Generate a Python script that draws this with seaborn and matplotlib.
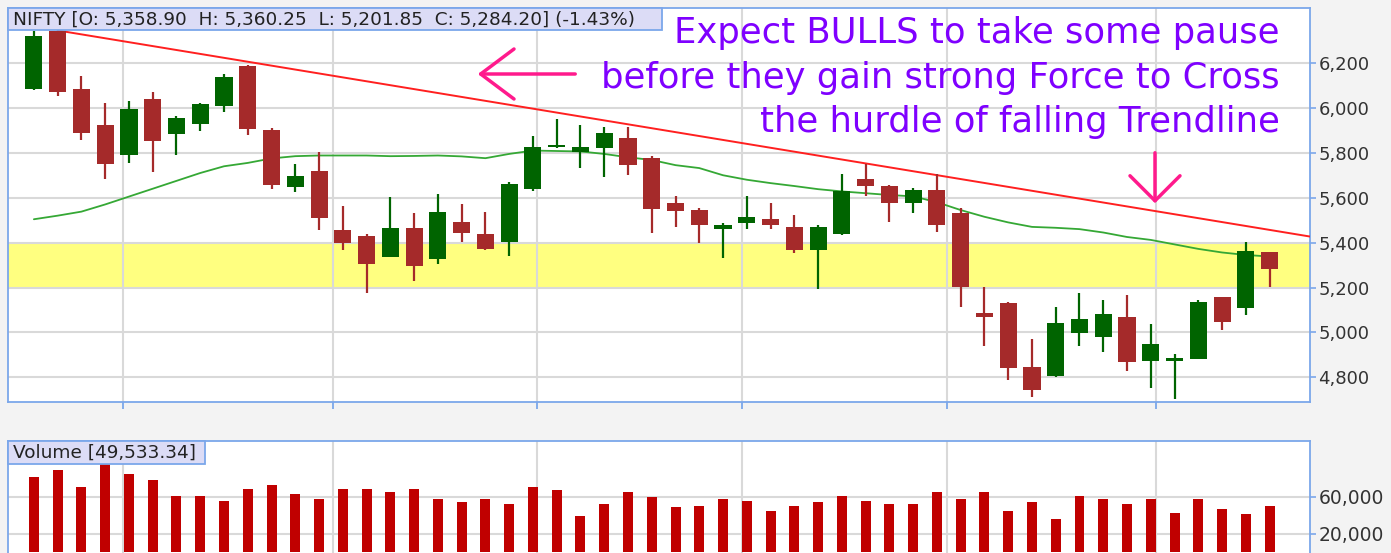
import numpy as np
import pandas as pd
import seaborn as sns
import matplotlib.pyplot as plt
from matplotlib.patches import Rectangle
from matplotlib.ticker import FuncFormatter

# weekly NIFTY candles
opens = [6084, 6341, 6084, 5925, 5791, 6039, 5883, 5928, 6010, 6185,
         5903, 5647, 5721, 5454, 5431, 5335, 5463, 5327, 5494, 5440,
         5402, 5638, 5825, 5803, 5822, 5866, 5776, 5576, 5546, 5460,
         5489, 5507, 5470, 5366, 5440, 5683, 5650, 5578, 5635, 5531,
         5085, 5130, 4847, 4806, 4996, 4981, 5068, 4874, 4874, 4880,
         5159, 5110, 5358.90]
highs = [6341, 6350, 6143, 6024, 6032, 6069, 5962, 6024, 6152, 6192,
         5910, 5751, 5803, 5564, 5440, 5601, 5531, 5616, 5570, 5538,
         5668, 5873, 5950, 5925, 5917, 5913, 5784, 5608, 5556, 5487,
         5608, 5576, 5525, 5479, 5706, 5750, 5657, 5643, 5706, 5554,
         5204, 5134, 4970, 5115, 5175, 5145, 5167, 5038, 4904, 5145,
         5159, 5402, 5360.25]
lows = [6081, 6055, 5858, 5684, 5754, 5714, 5791, 5895, 5980, 5880,
        5640, 5625, 5456, 5366, 5175, 5335, 5229, 5305, 5402, 5368,
        5342, 5632, 5820, 5732, 5694, 5702, 5442, 5471, 5397, 5331,
        5460, 5460, 5353, 5192, 5433, 5608, 5494, 5531, 5449, 5115,
        4941, 4788, 4714, 4800, 4941, 4912, 4828, 4751, 4703, 4880,
        5011, 5078, 5201.85]
closes = [6319, 6073, 5889, 5752, 5995, 5852, 5956, 6017, 6138, 5906,
          5656, 5698, 5509, 5397, 5305, 5463, 5296, 5538, 5442, 5373,
          5660, 5828, 5835, 5828, 5888, 5747, 5549, 5541, 5480, 5479,
          5516, 5480, 5366, 5470, 5628, 5654, 5578, 5635, 5479, 5204,
          5070, 4843, 4743, 5044, 5060, 5082, 4867, 4947, 4885, 5137,
          5048, 5363, 5284.20]
volumes = [81300, 88500, 70200, 96100, 84900, 77700, 61100, 61100, 55700, 68700,
           72300, 62900, 57500, 68700, 68700, 64700, 68700, 57500, 53900, 57500,
           51800, 70500, 66900, 39100, 51800, 64700, 59300, 48500, 50000, 57500,
           55700, 44500, 50000, 53900, 61100, 55700, 51800, 51800, 64700, 57500,
           64700, 44500, 53900, 35600, 61100, 57500, 51800, 57500, 42700, 57500,
           46400, 41000, 50000]
# moving average (green line)
ma_vals = [5504, 5520, 5538, 5570, 5605, 5640, 5675, 5710, 5740, 5755,
           5775, 5785, 5788, 5788, 5788, 5785, 5786, 5788, 5784, 5776,
           5795, 5810, 5808, 5806, 5795, 5780, 5768, 5745, 5732, 5700,
           5680, 5665, 5652, 5638, 5628, 5620, 5612, 5606, 5580, 5545,
           5515, 5490, 5470, 5466, 5460, 5445, 5425, 5412, 5392, 5372,
           5356, 5345, 5338]
# falling trendline drawn by hand
trend_x = [1, 53.7]
trend_y = [6345, 5427]
month_marks = [3.74, 12.58, 21.16, 29.79, 38.41, 47.24]
price_ticks = [4800, 5000, 5200, 5400, 5600, 5800, 6000, 6200]
vol_ticks = [20000, 60000]
zone_lo, zone_hi = 5200, 5400

title_txt = "NIFTY [O: 5,358.90  H: 5,360.25  L: 5,201.85  C: 5,284.20] (-1.43%)"
vol_txt = "Volume [49,533.34]"
note_lines = ["Expect BULLS to take some pause",
              "before they gain strong Force to Cross",
              "the hurdle of falling Trendline"]

df = pd.DataFrame({"open": opens, "high": highs, "low": lows,
                   "close": closes, "volume": volumes, "ma": ma_vals})
df["week"] = np.arange(len(df))
df["up"] = df["close"] >= df["open"]

sns.set_style("white")
plt.rcParams["font.family"] = ["DejaVu Sans"]

W, H = 1391, 553
blue = "#7ba7ea"
grid_c = "#d9d9d9"
green = "#006400"
red = "#a52a2a"
pink = "#ff1a8c"
purple = "#7f00ff"

fig = plt.figure(figsize=(W / 100, H / 100), dpi=100, facecolor="#f3f3f3")


def box(x0, y0, x1, y1):
    return [x0 / W, 1 - y1 / H, (x1 - x0) / W, (y1 - y0) / H]


ax = fig.add_axes(box(8, 8, 1310, 402))
axv = fig.add_axes(box(8, 441, 1310, 553))

# ---- price panel ----
ax.axhspan(zone_lo, zone_hi, color="#ffff80", zorder=0.2, lw=0)
cols = np.where(df["up"], green, red)
ax.vlines(df["week"], df["low"], df["high"], colors=cols, lw=1.6, zorder=3)
body_lo = df[["open", "close"]].min(axis=1)
body_h = (df["close"] - df["open"]).abs().clip(lower=6)
ax.bar(df["week"], body_h, bottom=body_lo, width=0.72, color=cols, lw=0, zorder=4)

sns.lineplot(data=df, x="week", y="ma", color="#35a835", lw=1.3, ax=ax, zorder=2.5)
sns.lineplot(x=trend_x, y=trend_y, color="#ff1f1f", lw=1.4, ax=ax, zorder=2.6)

ax.set_xlim(-1.09, 53.7)
ax.set_ylim(4690, 6445)
ax.set_xticks(month_marks)
ax.set_yticks(price_ticks)
ax.yaxis.set_major_formatter(FuncFormatter(lambda v, p: f"{v:,.0f}"))
ax.grid(True, color=grid_c, lw=1.5)
ax.set_axisbelow(True)
ax.set_xlabel("")
ax.set_ylabel("")
ax.tick_params(axis="x", bottom=True, length=5, width=1.3, color=blue, labelbottom=False)
ax.tick_params(axis="y", left=False, right=True, labelleft=False, labelright=True,
               length=4, width=1.2, color=blue, labelcolor="#333333", labelsize=13, pad=2)
for s in ax.spines.values():
    s.set_color(blue)
    s.set_linewidth(1.3)

# ---- volume panel ----
sns.barplot(data=df, x="week", y="volume", native_scale=True, width=0.42,
            color="#c00000", saturation=1, errorbar=None, lw=0, ax=axv)
axv.set_xlim(-1.09, 53.7)
axv.set_ylim(-865, 120200)
axv.set_xticks(month_marks)
axv.set_yticks(vol_ticks)
axv.yaxis.set_major_formatter(FuncFormatter(lambda v, p: f"{v:,.0f}"))
axv.grid(True, color=grid_c, lw=1.5)
axv.set_axisbelow(True)
axv.set_xlabel("")
axv.set_ylabel("")
axv.tick_params(axis="x", bottom=False, labelbottom=False)
axv.tick_params(axis="y", left=False, right=True, labelleft=False, labelright=True,
                length=4, width=1.2, color=blue, labelcolor="#333333", labelsize=13.5, pad=2)
for s in axv.spines.values():
    s.set_color(blue)
    s.set_linewidth(1.3)
axv.spines["bottom"].set_visible(False)

# ---- legend boxes ----
fig.add_artist(Rectangle((8 / W, 1 - 30 / H), 654 / W, 22 / H, transform=fig.transFigure,
                         facecolor="#dcdcf6", edgecolor=blue, lw=1.3, zorder=5))
fig.text(13 / W, 1 - 19.5 / H, title_txt, fontsize=13.3, color="#222222", va="center", zorder=6)
fig.add_artist(Rectangle((8 / W, 1 - 464 / H), 197 / W, 23 / H, transform=fig.transFigure,
                         facecolor="#dcdcf6", edgecolor=blue, lw=1.3, zorder=5))
fig.text(13 / W, 1 - 453 / H, vol_txt, fontsize=13.3, color="#222222", va="center", zorder=6)

# ---- annotation ----
for line, base in zip(note_lines, [43.5, 88.3, 131.7]):
    fig.text(1280 / W, 1 - base / H, line, fontsize=25.5, color=purple,
             ha="right", va="baseline", zorder=6)

ax.annotate("", xy=(475, H - 74), xycoords="figure pixels",
            xytext=(578, H - 74), textcoords="figure pixels",
            arrowprops=dict(arrowstyle="->,head_length=1.2,head_width=0.9",
                            color=pink, lw=2.5, mutation_scale=20))
ax.annotate("", xy=(1155, H - 206), xycoords="figure pixels",
            xytext=(1155, H - 150), textcoords="figure pixels",
            arrowprops=dict(arrowstyle="->,head_length=0.9,head_width=0.9",
                            color=pink, lw=2.5, mutation_scale=20))

fig.savefig("out.png", dpi=100, facecolor=fig.get_facecolor())
